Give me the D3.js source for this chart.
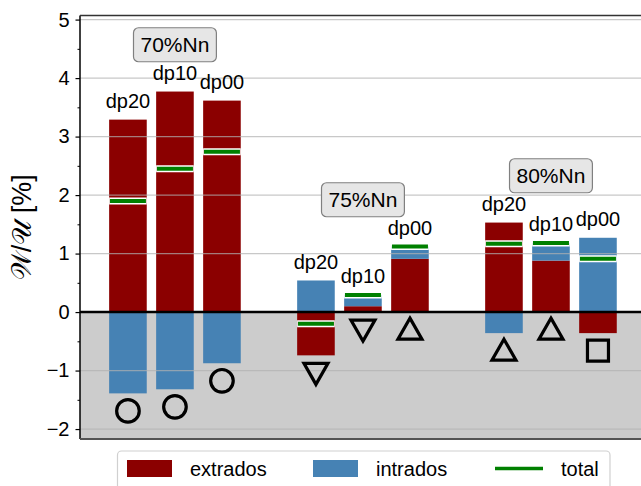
<!DOCTYPE html>
<html>
<head>
<meta charset="utf-8">
<script src="https://cdn.jsdelivr.net/npm/d3@7"></script>
<style>
  body { margin: 0; background: #fff; }
</style>
</head>
<body>
<div id="chart"></div>
<script>
// data
const groups = ["70%Nn", "75%Nn", "80%Nn"];
const cases = ["dp20", "dp10", "dp00"];
const extrados = [[3.29, 3.77, 3.615], [-0.74, 0.10, 0.91], [1.53, 0.88, -0.36]];
const intrados = [[-1.39, -1.32, -0.875], [0.54, 0.19, 0.21], [-0.36, 0.30, 1.27]];
const markerShapes = [["circle", "circle", "circle"],
                      ["triangle-down", "triangle-down", "triangle-up"],
                      ["triangle-up", "triangle-up", "square"]];
const yTicks = [-2, -1, 0, 1, 2, 3, 4, 5];
const legendItems = ["extrados", "intrados", "total"];

const width = 641, height = 486;
const plot = { left: 80, right: 668, top: 15.5, bottom: 439 };
const font = "Liberation Sans";

const svg = d3.select("#chart").append("svg")
    .attr("width", width)
    .attr("height", height);

const x = d3.scaleLinear().domain([-1.02, 11.49]).range([plot.left, plot.right]);
const y = d3.scaleLinear().domain([-2.17, 5.07]).range([plot.bottom, plot.top]);
const barW = x(0.8) - x(0);

// one entry per bar
const bars = [];
groups.forEach((g, gi) => {
    cases.forEach((c, ci) => {
        const e = extrados[gi][ci], i = intrados[gi][ci];
        const same = (e >= 0) === (i >= 0);
        bars.push({
            group: gi, label: c, pos: gi * 4 + ci,
            e: e, i: i, total: e + i,
            // same sign -> intrados stacked on extrados, else both start at 0
            iBase: same ? e : 0,
            top: Math.max(0, e, i, e + i),
            bottom: Math.min(0, e, i, e + i),
            shape: markerShapes[gi][ci]
        });
    });
});

svg.append("clipPath").attr("id", "clip")
    .append("rect")
    .attr("x", plot.left).attr("y", plot.top)
    .attr("width", plot.right - plot.left).attr("height", plot.bottom - plot.top);

const g = svg.append("g").attr("clip-path", "url(#clip)");

// grey area below zero
g.append("rect")
    .attr("x", plot.left).attr("y", y(0))
    .attr("width", plot.right - plot.left).attr("height", plot.bottom - y(0))
    .attr("fill", "#cccccc");

// extrados
g.selectAll(".ext").data(bars).enter().append("rect")
    .attr("x", d => x(d.pos) - barW / 2)
    .attr("width", barW)
    .attr("y", d => y(Math.max(0, d.e)))
    .attr("height", d => Math.abs(y(d.e) - y(0)))
    .attr("fill", "#8b0000");

// intrados
g.selectAll(".int").data(bars).enter().append("rect")
    .attr("x", d => x(d.pos) - barW / 2)
    .attr("width", barW)
    .attr("y", d => y(Math.max(d.iBase, d.iBase + d.i)))
    .attr("height", d => Math.abs(y(d.iBase + d.i) - y(d.iBase)))
    .attr("fill", "#4682b4");

// grid on top of the bars
g.selectAll(".grid").data(yTicks).enter().append("line")
    .attr("x1", plot.left).attr("x2", plot.right)
    .attr("y1", d => y(d)).attr("y2", d => y(d))
    .attr("stroke", "#b0b0b0")
    .attr("stroke-opacity", 0.7)
    .attr("stroke-width", 1.3);

// totals, green with a white edge
g.selectAll(".totw").data(bars).enter().append("line")
    .attr("x1", d => x(d.pos) - barW / 2).attr("x2", d => x(d.pos) + barW / 2)
    .attr("y1", d => y(d.total)).attr("y2", d => y(d.total))
    .attr("stroke", "#ffffff").attr("stroke-width", 7);
g.selectAll(".tot").data(bars).enter().append("line")
    .attr("x1", d => x(d.pos) - barW / 2 + 0.8).attr("x2", d => x(d.pos) + barW / 2 - 0.8)
    .attr("y1", d => y(d.total)).attr("y2", d => y(d.total))
    .attr("stroke", "#008000").attr("stroke-width", 4);

// zero line
g.append("line")
    .attr("x1", plot.left).attr("x2", plot.right)
    .attr("y1", y(0)).attr("y2", y(0))
    .attr("stroke", "#000").attr("stroke-width", 2.6);

function markerPath(shape) {
    if (shape === "circle") return d3.symbol(d3.symbolCircle, Math.PI * 11.3 * 11.3)();
    if (shape === "square") return "M-10.5,-10.5H10.5V10.5H-10.5Z";
    if (shape === "triangle-up") return "M0,-11.5L12,9.5L-12,9.5Z";
    return "M0,11.5L12,-9.5L-12,-9.5Z";
}
g.selectAll(".mk").data(bars).enter().append("path")
    .attr("d", d => markerPath(d.shape))
    .attr("transform", d => `translate(${x(d.pos)},${y(d.bottom - 0.3)})`)
    .attr("fill", "none")
    .attr("stroke", "#000")
    .attr("stroke-width", 3.2);

// dpXX labels
svg.selectAll(".lbl").data(bars).enter().append("text")
    .attr("x", d => x(d.pos))
    .attr("y", d => y(d.top + 0.2))
    .attr("text-anchor", "middle")
    .style("font-family", font)
    .attr("font-size", 20)
    .text(d => d.label);

// group boxes
groups.forEach((name, gi) => {
    const gb = bars.filter(b => b.group === gi);
    const cx = x(gi * 4 + 1);
    const cy = y(d3.max(gb, b => b.top) + 0.8);
    const box = svg.append("g");
    const t = box.append("text")
        .attr("x", cx).attr("y", cy + 7)
        .attr("text-anchor", "middle")
        .style("font-family", font)
        .attr("font-size", 21)
        .text(name);
    const bw = t.node().getComputedTextLength() + 14;
    box.insert("rect", "text")
        .attr("x", cx - bw / 2).attr("y", cy - 17)
        .attr("width", bw).attr("height", 34)
        .attr("rx", 5)
        .attr("fill", "#e6e6e6")
        .attr("stroke", "#808080")
        .attr("stroke-width", 1.2);
});

// y axis
const yAxis = svg.append("g")
    .attr("transform", `translate(${plot.left},0)`)
    .call(d3.axisLeft(y).tickValues(yTicks).tickSize(4.5).tickPadding(6)
        .tickFormat(d => d < 0 ? "\u2212" + Math.abs(d) : d));
yAxis.select(".domain").remove();
yAxis.selectAll("text")
    .attr("font-size", 20)
    .style("font-family", font);
yAxis.selectAll("line").attr("stroke-width", 1.2);

svg.append("g")
    .attr("transform", `translate(${plot.left},0)`)
    .call(d3.axisLeft(y).tickValues(d3.range(-1.5, 5, 1)).tickSize(2.5).tickFormat(""))
    .call(s => s.select(".domain").remove())
    .selectAll("line").attr("stroke-width", 1);

// spines
svg.append("line")
    .attr("x1", plot.left).attr("x2", plot.left)
    .attr("y1", plot.top).attr("y2", plot.bottom)
    .attr("stroke", "#000").attr("stroke-width", 1.5);
svg.append("line")
    .attr("x1", plot.left).attr("x2", width)
    .attr("y1", plot.top).attr("y2", plot.top)
    .attr("stroke", "#333").attr("stroke-width", 1.5);
svg.append("line")
    .attr("x1", plot.left).attr("x2", width)
    .attr("y1", plot.bottom).attr("y2", plot.bottom)
    .attr("stroke", "#555").attr("stroke-width", 1.8);

// y label
svg.append("text")
    .attr("transform", `translate(31,${(plot.top + plot.bottom) / 2}) rotate(-90)`)
    .attr("text-anchor", "middle")
    .style("font-family", font)
    .attr("font-size", 27)
    .text("\u{1D4B2}/\u{1D4B0} [%]");

// legend
const leg = svg.append("g");
leg.append("rect")
    .attr("x", 117.5).attr("y", 451)
    .attr("width", 492.5).attr("height", 50)
    .attr("rx", 4)
    .attr("fill", "#fff")
    .attr("stroke", "#d0d0d0")
    .attr("stroke-width", 1.2);
const legX = [127, 313, 495];
const legColors = ["#8b0000", "#4682b4", "#008000"];
legendItems.forEach((name, k) => {
    if (k < 2) {
        leg.append("rect")
            .attr("x", legX[k]).attr("y", 460)
            .attr("width", 45).attr("height", 17)
            .attr("fill", legColors[k]);
    } else {
        leg.append("line")
            .attr("x1", legX[k]).attr("x2", legX[k] + 48)
            .attr("y1", 468.5).attr("y2", 468.5)
            .attr("stroke", legColors[k]).attr("stroke-width", 3.5);
    }
    leg.append("text")
        .attr("x", legX[k] + (k < 2 ? 63 : 66))
        .attr("y", 476)
        .style("font-family", font)
        .attr("font-size", 20)
        .text(name);
});
</script>
</body>
</html>
